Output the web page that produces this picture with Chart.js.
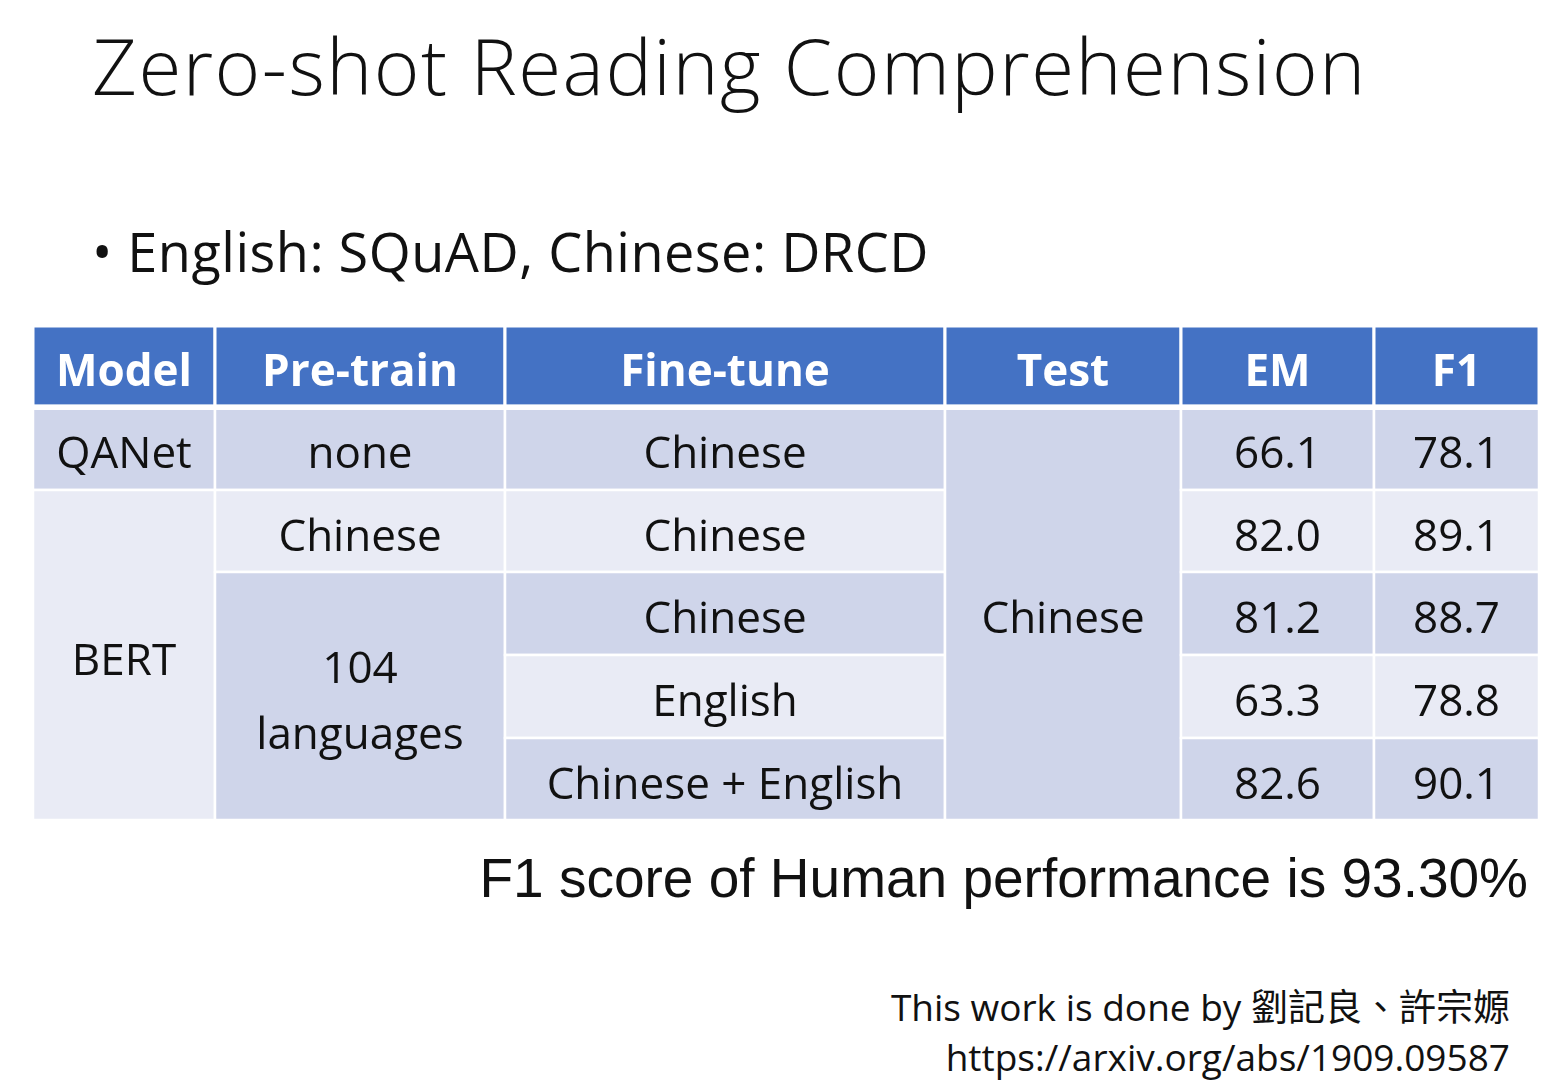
<!DOCTYPE html>
<html><head><meta charset="utf-8">
<script src="https://cdn.jsdelivr.net/npm/chart.js@4/dist/chart.umd.min.js"></script>
<style>
body{margin:0;width:1558px;height:1091px;background:#fff;position:relative;overflow:hidden;font-family:"Open Sans","Noto Sans",sans-serif}
#title{position:absolute;left:92px;top:12px;font-size:78px;font-weight:300;color:#111;letter-spacing:1.5px}
#bullet{position:absolute;left:92px;top:214px;font-size:54px;color:#111;letter-spacing:0.5px}
#wrap{position:absolute;left:33px;top:326px;width:1506px;height:494px}
#human{position:absolute;right:30px;top:846px;font-family:"Liberation Sans",Arial;font-size:55px;color:#111}
#foot{position:absolute;right:48px;top:980px;font-size:37px;color:#111;text-align:right;line-height:50px;font-family:"Open Sans","Noto Sans CJK TC",sans-serif}
</style></head><body>
<div id="title">Zero-shot Reading Comprehension</div>
<div id="bullet">• English: SQuAD, Chinese: DRCD</div>
<div id="wrap"><canvas id="tbl"></canvas></div>
<div id="human">F1 score of Human performance is 93.30%</div>
<div id="foot">This work is done by <span style="font-family:'Noto Sans CJK TC'">劉記良、許宗嫄</span><br>https://arxiv.org/abs/1909.09587</div>
<script>
// table data
const headers = ["Model", "Pre-train", "Fine-tune", "Test", "EM", "F1"];
const models = ["QANet", "BERT"];
const preTrain = ["none", "Chinese", "104\nlanguages"];
const fineTune = ["Chinese", "Chinese", "Chinese", "English", "Chinese + English"];
const testSet = ["Chinese"];
const em = [66.1, 82.0, 81.2, 63.3, 82.6];
const f1 = [78.1, 89.1, 88.7, 78.8, 90.1];

// layout (in scale units)
const colEdges = [0, 182, 472, 912, 1148, 1341, 1506];
const rowEdges = [0, 80, 164, 246, 329, 412, 494];
const DARK = "#CFD5EA", LIGHT = "#E9EBF5", HEAD = "#4472C4";

// cells: [col, rowStart, rowEnd, text, bg, header]
const cells = [];
headers.forEach((h, i) => cells.push([i, 0, 1, h, HEAD, true]));
cells.push([0, 1, 2, models[0], DARK]);
cells.push([0, 2, 6, models[1], LIGHT]);
cells.push([1, 1, 2, preTrain[0], DARK]);
cells.push([1, 2, 3, preTrain[1], LIGHT]);
cells.push([1, 3, 6, preTrain[2], DARK]);
fineTune.forEach((t, i) => cells.push([2, i + 1, i + 2, t, i % 2 ? LIGHT : DARK]));
cells.push([3, 1, 6, testSet[0], DARK]);
em.forEach((v, i) => cells.push([4, i + 1, i + 2, v.toFixed(1), i % 2 ? LIGHT : DARK]));
f1.forEach((v, i) => cells.push([5, i + 1, i + 2, v.toFixed(1), i % 2 ? LIGHT : DARK]));

const tablePlugin = {
  id: "table",
  afterDraw(chart) {
    const { ctx, scales: { x, y } } = chart;
    ctx.save();
    cells.forEach(([c, r0, r1, text, bg, head]) => {
      const x0 = x.getPixelForValue(colEdges[c]), x1 = x.getPixelForValue(colEdges[c + 1]);
      const y0 = y.getPixelForValue(rowEdges[r0]), y1 = y.getPixelForValue(rowEdges[r1]);
      ctx.fillStyle = bg;
      ctx.fillRect(x0, y0, x1 - x0, y1 - y0);
      ctx.strokeStyle = "#fff";
      ctx.lineWidth = head ? 3 : 2.5;
      ctx.strokeRect(x0, y0, x1 - x0, y1 - y0);
      ctx.fillStyle = head ? "#fff" : "#111";
      ctx.font = (head ? "bold " : "") + "44px 'Open Sans', 'Noto Sans', sans-serif";
      ctx.textAlign = "center";
      ctx.textBaseline = "middle";
      const lines = text.split("\n");
      const lh = 66;
      const cy = (y0 + y1) / 2 + 7 - (lines.length - 1) * lh / 2;
      lines.forEach((l, k) => ctx.fillText(l, (x0 + x1) / 2, cy + k * lh));
    });
    // thicker line under header
    ctx.fillStyle = "#fff";
    ctx.fillRect(x.getPixelForValue(0), y.getPixelForValue(rowEdges[1]) - 1, x.getPixelForValue(1506) - x.getPixelForValue(0), 5);
    ctx.restore();
  }
};

new Chart(document.getElementById("tbl"), {
  type: "scatter",
  data: { datasets: [] },
  options: {
    responsive: true, maintainAspectRatio: false, animation: false,
    layout: { padding: 0 },
    plugins: { legend: { display: false }, tooltip: { enabled: false } },
    scales: {
      x: { type: "linear", min: 0, max: 1506, display: false },
      y: { type: "linear", min: 0, max: 494, reverse: true, display: false }
    }
  },
  plugins: [tablePlugin]
});
</script>
</body></html>
